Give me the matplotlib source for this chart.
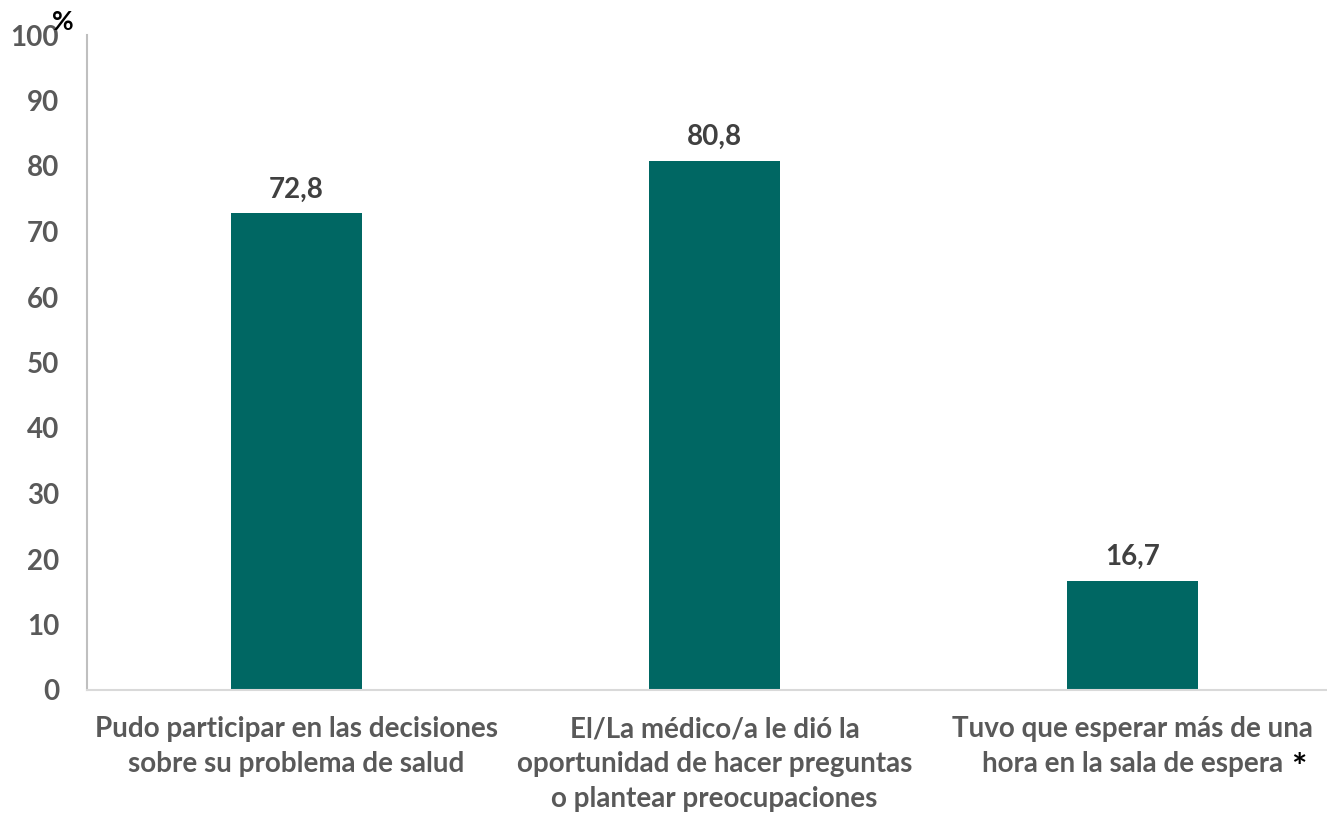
import matplotlib.pyplot as plt

categories = [
    "Pudo participar en las decisiones\nsobre su problema de salud",
    "El/La médico/a le dió la\noportunidad de hacer preguntas\no plantear preocupaciones",
    "Tuvo que esperar más de una\nhora en la sala de espera",
]
values = [72.8, 80.8, 16.7]
value_labels = ["72,8", "80,8", "16,7"]
yticks = [0, 10, 20, 30, 40, 50, 60, 70, 80, 90, 100]

plt.rcParams['font.family'] = ['Lato', 'DejaVu Sans']
plt.rcParams['font.weight'] = 'bold'

fig = plt.figure(figsize=(13.27, 8.17), dpi=100)
ax = fig.add_axes([87 / 1327, 1 - 690 / 817, 1255 / 1327, 655 / 817])

x = range(len(values))
ax.bar(x, values, width=0.313, color='#006763', zorder=2)

for i, v in enumerate(values):
    ax.text(i, v + 1.6, value_labels[i], ha='center', va='bottom',
            fontsize=20, fontweight='bold', color='#404040')

ax.set_xlim(-0.5, 2.5)
ax.set_ylim(0, 100)
ax.set_yticks(yticks)
ax.set_yticklabels([str(t) for t in yticks], fontsize=20, fontweight='bold', color='#595959')
ax.set_xticks(list(x))
ax.set_xticklabels(categories, fontsize=20, fontweight='bold', color='#595959', linespacing=1.42)
ax.tick_params(axis='both', length=0)
ax.tick_params(axis='y', pad=20)
ax.tick_params(axis='x', pad=19)

for s in ['top', 'right']:
    ax.spines[s].set_visible(False)
ax.spines['left'].set_color('#bfbfbf')
ax.spines['bottom'].set_color('#d9d9d9')
ax.spines['left'].set_linewidth(1.5)
ax.spines['bottom'].set_linewidth(1.5)

fig.text(63 / 1327, 1 - 22 / 817, "%", fontsize=19, fontweight='bold', color='black',
         ha='center', va='center')
fig.text(1299 / 1327, 1 - 768 / 817, "*", fontsize=26, fontweight='bold', color='black',
         ha='center', va='center')

fig.savefig('out.png', dpi=100)
